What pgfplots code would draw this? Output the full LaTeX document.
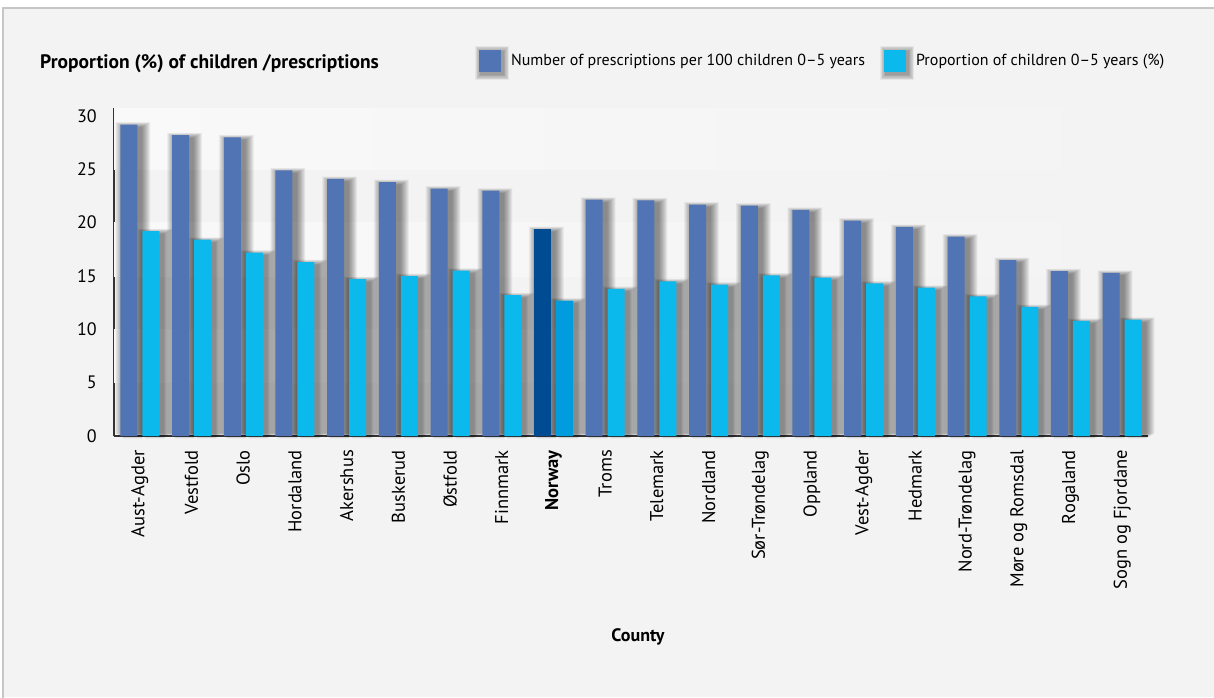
\documentclass[border=0pt]{standalone}
\usepackage{fontspec}
\setmainfont{PT Sans}
\usepackage{pgfplots}
\usepackage{pgfplotstable}
\pgfplotsset{compat=1.18}

\definecolor{pagebg}{HTML}{F3F3F3}
\definecolor{bandlight}{HTML}{F9F9F9}
\definecolor{framegray}{HTML}{C6C6C6}
\definecolor{axisgray}{HTML}{333333}
\definecolor{rxblue}{HTML}{5175B4}
\definecolor{kidblue}{HTML}{0CB9EC}
\definecolor{norrx}{HTML}{004B91}
\definecolor{norkid}{HTML}{009DDE}

% county index, prescriptions per 100 children 0-5 years
\pgfplotstableread{
x  y
0  29.2
1  28.2
2  28.0
3  24.9
4  24.1
5  23.8
6  23.2
7  23.0
8  19.4
9  22.15
10 22.1
11 21.7
12 21.6
13 21.2
14 20.2
15 19.6
16 18.7
17 16.5
18 15.45
19 15.3
}\rxtable
% county index, proportion (%) of children 0-5 years
\pgfplotstableread{
x  y
0  19.2
1  18.4
2  17.2
3  16.3
4  14.7
5  15.0
6  15.5
7  13.2
8  12.7
9  13.8
10 14.5
11 14.2
12 15.05
13 14.85
14 14.3
15 13.9
16 13.1
17 12.1
18 10.8
19 10.9
}\kidtable

% soft shadow behind the legend keys
\newcommand{\keyshadow}{%
  \foreach \e in {0.75,1.5,...,6}{%
    \fill[black, opacity=0.05, overlay]
      ({2pt-\e pt},{-13pt-\e pt}) rectangle ({24pt+\e pt},{9pt+\e pt});}}

\begin{document}
\begin{tikzpicture}
\useasboundingbox (0pt,0pt) rectangle (1214pt,697pt);
\fill[white] (0pt,0pt) rectangle (1214pt,697pt);
\fill[pagebg] (3pt,0pt) rectangle (1216pt,689pt);
\draw[framegray, line width=1.3pt] (3pt,-2pt) -- (3pt,689pt) -- (1216pt,689pt);

\node[anchor=base west, inner sep=0pt, font=\bfseries\fontsize{19.5}{23}\selectfont]
  at (40pt,628pt) {Proportion (\%) of children /prescriptions};

\begin{axis}[
  at={(114pt,261pt)}, anchor=south west,
  scale only axis, width=1034pt, height=328pt,
  xmin=-0.5, xmax=19.5, ymin=0, ymax=30.75,
  clip=false,
  axis x line*=bottom, axis y line*=left,
  axis line style={-, draw=axisgray, line width=1.2pt},
  major tick length=0pt, tick style={draw=none},
  ytick={0,5,...,30},
  xtick={0,...,19},
  xticklabels={Aust-Agder, Vestfold, Oslo, Hordaland, Akershus, Buskerud,
    Østfold, Finnmark, \textbf{Norway}, Troms, Telemark, Nordland,
    Sør-Trøndelag, Oppland, Vest-Agder, Hedmark, Nord-Trøndelag,
    Møre og Romsdal, Rogaland, Sogn og Fjordane},
  xticklabel style={rotate=90, anchor=east, inner sep=0pt,
    font=\fontsize{18.5}{21}\selectfont},
  xticklabel shift=14pt,
  yticklabel style={anchor=east, inner sep=0pt,
    font=\fontsize{18}{21}\selectfont},
  yticklabel shift=17pt,
  /pgf/number format/assume math mode=true,
  xlabel={County},
  xlabel style={at={(rel axis cs:0.5,0)}, anchor=center, inner sep=0pt,
    yshift=-201pt, xshift=7pt, font=\bfseries\fontsize{18}{21}\selectfont},
  ybar, bar width=17pt,
  legend columns=2,
  legend style={at={(rel axis cs:0.353,1)}, anchor=west, yshift=47pt,
    draw=none, fill=none, inner sep=0pt, outer sep=0pt,
    nodes={inner sep=0pt, font=\fontsize{16}{19}\selectfont},
    /tikz/every even column/.append style={column sep=19pt}},
  legend image code/.code={
    \keyshadow
    \fill[#1] (0pt,-11pt) rectangle (22pt,11pt);
    \path (32pt,0pt);},
]
% horizontal bands behind the bars
\fill[left color=bandlight, right color=pagebg, draw=none]
  (axis cs:-0.5,25) rectangle (axis cs:19.5,30.75);
\fill[left color=bandlight, right color=pagebg, draw=none]
  (axis cs:-0.5,15) rectangle (axis cs:19.5,20);
\fill[left color=bandlight, right color=pagebg, draw=none]
  (axis cs:-0.5,5) rectangle (axis cs:19.5,10);

% soft drop shadows: stacked translucent bars, widening outwards
\pgfplotsinvokeforeach{0.75,1.5,2.25,3,3.75,4.5,5.25,6,6.75,7.5,8.25,9}{
  \addplot[forget plot, fill=black, fill opacity=0.045, draw=none,
    bar width={17pt+2*#1pt}, bar shift=-7pt, yshift={0.6*#1pt-3pt}]
    table[x=x, y=y] {\rxtable};
  \addplot[forget plot, fill=black, fill opacity=0.045, draw=none,
    bar width={17pt+2*#1pt}, bar shift=15pt, yshift={0.6*#1pt-3pt}]
    table[x=x, y=y] {\kidtable};
}

% prescriptions per 100 children 0-5 years
\addplot[fill=rxblue, draw=none, bar shift=-11pt] table[x=x, y=y] {\rxtable};
\addlegendentry{Number of prescriptions per 100 children 0–5 years}
% proportion of children 0-5 years
\addplot[fill=kidblue, draw=none, bar shift=11pt] table[x=x, y=y] {\kidtable};
\addlegendentry{Proportion of children 0–5 years (\%)}
% national figures in darker shades
\addplot[fill=norrx, draw=none, bar shift=-11pt, forget plot,
  x filter/.expression={x==8 ? x : nan}] table[x=x, y=y] {\rxtable};
\addplot[fill=norkid, draw=none, bar shift=11pt, forget plot,
  x filter/.expression={x==8 ? x : nan}] table[x=x, y=y] {\kidtable};
\end{axis}
\end{tikzpicture}
\end{document}
